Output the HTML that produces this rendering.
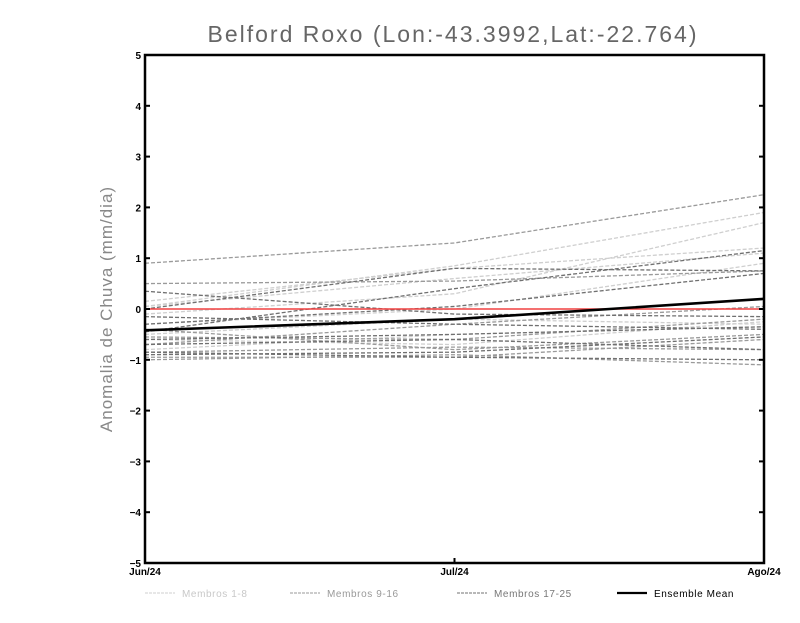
<!DOCTYPE html>
<html><head><meta charset="utf-8"><style>
body{margin:0;background:#fff;width:800px;height:618px;overflow:hidden;font-family:"Liberation Sans",sans-serif}
</style></head><body>
<svg id="chart" width="800" height="618" xmlns="http://www.w3.org/2000/svg">
<text x="453" y="42" text-anchor="middle" font-size="23" fill="#666" letter-spacing="2" font-family="Liberation Sans, sans-serif">Belford Roxo (Lon:-43.3992,Lat:-22.764)</text>
<text transform="translate(112,309) rotate(-90)" text-anchor="middle" font-size="17" fill="#888" letter-spacing="1">Anomalia de Chuva (mm/dia)</text>
<g id="series"></g>
<g id="axes"></g>
<g id="legend"></g>
</svg>
<script>
const categories = ["Jun/24","Jul/24","Ago/24"];
const yTicks = [5,4,3,2,1,0,-1,-2,-3,-4,-5];
const yTickLabels = ["5","4","3","2","1","0","−1","−2","−3","−4","−5"];
const members1to8 = [[0.05,0.85,1.9],[-0.1,0.3,1.7],[0.15,0.8,1.2],[-0.5,-0.2,-0.3],[-0.6,-0.7,-0.25],[-0.3,0.0,0.9],[-0.8,-0.5,-0.35],[0.05,0.6,1.1]];
const members9to16 = [[0.9,1.3,2.25],[-0.95,-0.95,-0.6],[-0.7,-0.3,0.05],[-0.4,-0.8,-0.5],[-0.85,-0.75,-0.8],[0.5,0.55,0.75],[-1.0,-0.9,-1.1],[-0.55,-0.6,-0.2]];
const members17to25 = [[0.35,-0.1,-0.15],[0.0,0.8,0.75],[-0.15,-0.3,-0.4],[-0.3,0.05,0.7],[-0.9,-0.85,-0.55],[-0.6,-0.5,-0.35],[-0.85,-0.95,-1.0],[-0.45,0.4,1.15],[-0.7,-0.6,-0.8]];
const ensembleMean = [-0.42,-0.2,0.2];
const legendLabels = ["Membros 1-8","Membros 9-16","Membros 17-25","Ensemble Mean"];

const NS="http://www.w3.org/2000/svg";
const X0=145,X1=764,Y0=55,Y1=563;
function xs(i){return X0+(X1-X0)*i/(categories.length-1);}
function ys(v){return Y0+(5-v)*(Y1-Y0)/10;}
function mk(tag,attrs,parent){const e=document.createElementNS(NS,tag);for(const k in attrs)e.setAttribute(k,attrs[k]);parent.appendChild(e);return e;}
const series=document.getElementById('series'),axes=document.getElementById('axes'),legend=document.getElementById('legend');
function pts(arr){return arr.map((v,i)=>xs(i)+','+ys(v)).join(' ');}
const groups=[[members1to8,'#cfcfcf'],[members9to16,'#9a9a9a'],[members17to25,'#707070']];
groups.forEach((g,gi)=>{g[0].forEach((m,mi)=>{
  const l=mk('polyline',{points:pts(m),fill:'none',stroke:g[1],'stroke-width':1.3,'stroke-dasharray':'4,2'},series);
  
  
});});
const zl=mk('line',{x1:X0,x2:X1,y1:ys(0),y2:ys(0),stroke:'#f04040','stroke-width':1.5},series);


const em=mk('polyline',{points:pts(ensembleMean),fill:'none',stroke:'#000','stroke-width':2.6},series);


const frame=mk('rect',{x:X0,y:Y0,width:X1-X0,height:Y1-Y0,fill:'none',stroke:'#000','stroke-width':2.5},axes);


yTicks.forEach((v,i)=>{
  const y=ys(v);
  mk('line',{x1:X0,x2:X0+5,y1:y,y2:y,stroke:'#000','stroke-width':2},axes);
  mk('line',{x1:X1-5,x2:X1,y1:y,y2:y,stroke:'#000','stroke-width':2},axes);
  const t=mk('text',{x:X0-4,y:y+4,'text-anchor':'end','font-size':10,'font-weight':'bold',fill:'#000'},axes);
  t.textContent=yTickLabels[i];
  
  
});
categories.forEach((c,i)=>{
  const x=xs(i);
  mk('line',{x1:x,x2:x,y1:Y1,y2:Y1-5,stroke:'#000','stroke-width':2},axes);
  const t=mk('text',{x:x,y:Y1+12,'text-anchor':'middle','font-size':10,'font-weight':'bold',fill:'#000'},axes);
  t.textContent=c;
  
  
});
const lx=[145,290,457,617],lc=['#cfcfcf','#9a9a9a','#707070','#000'],tc=['#c8c8c8','#999','#777','#000'];
legendLabels.forEach((lab,i)=>{
  const ln=mk('line',{x1:lx[i],x2:lx[i]+30,y1:593,y2:593,stroke:lc[i],'stroke-width':i==3?2.2:1,'stroke-dasharray':i==3?'none':'3,1'},legend);
  
  
  const t=mk('text',{x:lx[i]+37,y:597,'font-size':10,fill:tc[i],'letter-spacing':0.6},legend);
  t.textContent=lab;
  
  
});
</script>
</body></html>
